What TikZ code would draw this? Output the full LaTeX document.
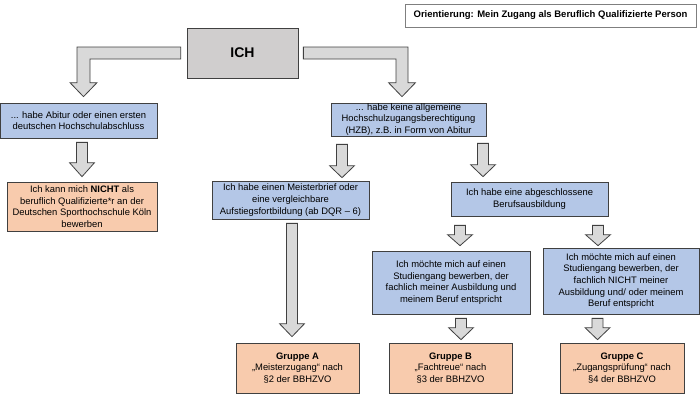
\documentclass[tikz,border=0pt]{standalone}
\usepackage{fontspec}
\setmainfont{Liberation Sans}
\usetikzlibrary{calc}
\definecolor{bluec}{HTML}{B4C7E7}
\definecolor{orc}{HTML}{F8CBAD}
\definecolor{greyc}{HTML}{D9D9D9}
\definecolor{ichc}{HTML}{D0CECE}
\definecolor{bordc}{HTML}{404040}
\definecolor{titlec}{HTML}{7F7F7F}
\newcommand\fs{\fontsize{9.4}{11.7}\selectfont}
\tikzset{
  box/.style={draw=bordc, line width=0.7pt, align=center, inner sep=0pt, font=\fs},
  bluebox/.style={box, fill=bluec},
  orbox/.style={box, fill=orc},
  blk/.style={draw=bordc, fill=greyc, line width=0.8pt, line join=miter},
}
% #1 head length, #2 x centre, #3 top point, #4 tip point
\newcommand\dblock[4][12]{%
  \draw[blk] let \p1=#3, \p2=#4 in
    (#2pt-5.5pt,\y1) -- (#2pt+5.5pt,\y1) -- (#2pt+5.5pt,\y2+#1pt) -- (#2pt+12.5pt,\y2+#1pt)
    -- (#2pt,\y2) -- (#2pt-12.5pt,\y2+#1pt) -- (#2pt-5.5pt,\y2+#1pt) -- cycle;}
\begin{document}
\begin{tikzpicture}[x=1pt,y=-1pt]
\useasboundingbox (0,0) rectangle (700,400);

\node[box, fill=white, draw=titlec, minimum width=291pt, minimum height=23pt,
      font=\fontsize{9.5}{11}\selectfont\bfseries] (title) at (550.5,15.5)
      {Orientierung: Mein Zugang als Beruflich Qualifizierte Person};

\node[box, fill=ichc, minimum width=111pt, minimum height=50pt,
      font=\fontsize{14}{16}\selectfont\bfseries] (ich) at (242.5,53) {ICH};

\node[bluebox, minimum width=157pt, minimum height=35pt] (abitur) at (78.5,120.5)
  {... habe Abitur oder einen ersten\\deutschen Hochschulabschluss};

\node[orbox, minimum width=150pt, minimum height=49pt] (nicht) at (82,206.5)
  {Ich kann mich \textbf{NICHT} als\\beruflich Qualifizierte*r an der\\Deutschen Sporthochschule Köln\\bewerben};

\node[bluebox, minimum width=155pt, minimum height=33pt] (hzb) at (408.5,119.5)
  {... habe keine allgemeine\\Hochschulzugangsberechtigung\\(HZB), z.B. in Form von Abitur};

\node[bluebox, minimum width=157pt, minimum height=38pt] (meister) at (290.5,200)
  {Ich habe einen Meisterbrief oder\\eine vergleichbare\\Aufstiegsfortbildung (ab DQR – 6)};

\node[bluebox, minimum width=157pt, minimum height=34pt] (beruf) at (529.5,199)
  {Ich habe eine abgeschlossene\\Berufsausbildung};

\node[bluebox, minimum width=158pt, minimum height=63pt] (fach1) at (451,282.5)
  {Ich möchte mich auf einen\\Studiengang bewerben, der\\fachlich meiner Ausbildung und\\meinem Beruf entspricht};

\node[bluebox, minimum width=156pt, minimum height=66pt] (fach2) at (621,281)
  {Ich möchte mich auf einen\\Studiengang bewerben, der\\fachlich NICHT meiner\\Ausbildung und/ oder meinem\\Beruf entspricht};

\node[orbox, minimum width=123pt, minimum height=50pt] (ga) at (297.5,368)
  {\textbf{Gruppe A}\\„Meisterzugang“ nach\\§2 der BBHZVO};
\node[orbox, minimum width=123pt, minimum height=50pt] (gb) at (450.5,368)
  {\textbf{Gruppe B}\\„Fachtreue“ nach\\§3 der BBHZVO};
\node[orbox, minimum width=124pt, minimum height=50pt] (gc) at (622,368)
  {\textbf{Gruppe C}\\„Zugangsprüfung“ nach\\§4 der BBHZVO};

% bent arrows from ICH
\draw[blk] let \p1=(ich.west), \p2=(abitur.north) in
  (\x1-6pt,\y1+6pt) -- (77pt,\y1+6pt) -- (77pt,\y2+20pt) -- (70pt,\y2+20pt)
  -- (83.5pt,\y2+6pt) -- (97pt,\y2+20pt) -- (90pt,\y2+20pt) -- (90pt,\y1-6pt)
  -- (\x1-6pt,\y1-6pt) -- cycle;
\draw[blk] let \p1=(ich.east), \p2=(hzb.north) in
  (\x1+5pt,\y1+6pt) -- (408pt,\y1+6pt) -- (408pt,\y2+20pt) -- (415.5pt,\y2+20pt)
  -- (402pt,\y2+6pt) -- (388.5pt,\y2+20pt) -- (396pt,\y2+20pt) -- (396pt,\y1-6pt)
  -- (\x1+5pt,\y1-6pt) -- cycle;

% straight block arrows
\dblock[14]{82}{($(abitur.south)+(0,4)$)}{($(nicht.north)+(0,-5)$)}
\dblock[12]{342}{($(hzb.south)+(0,8)$)}{($(meister.north)+(0,-3)$)}
\dblock[12]{483}{($(hzb.south)+(0,7)$)}{($(beruf.north)+(0,-5)$)}
\dblock[13]{292}{($(meister.south)+(0,4)$)}{($(ga.north)+(0,-6)$)}
\dblock[11]{460}{($(beruf.south)+(0,9)$)}{($(fach1.north)+(0,-5)$)}
\dblock[11]{598}{($(beruf.south)+(0,9)$)}{($(fach2.north)+(0,-2)$)}
\dblock[12]{461}{($(fach1.south)+(0,4)$)}{($(gb.north)+(0,-3)$)}
\dblock[12]{597.5}{($(fach2.south)+(0,4)$)}{($(gc.north)+(0,-3)$)}
\end{tikzpicture}
\end{document}
